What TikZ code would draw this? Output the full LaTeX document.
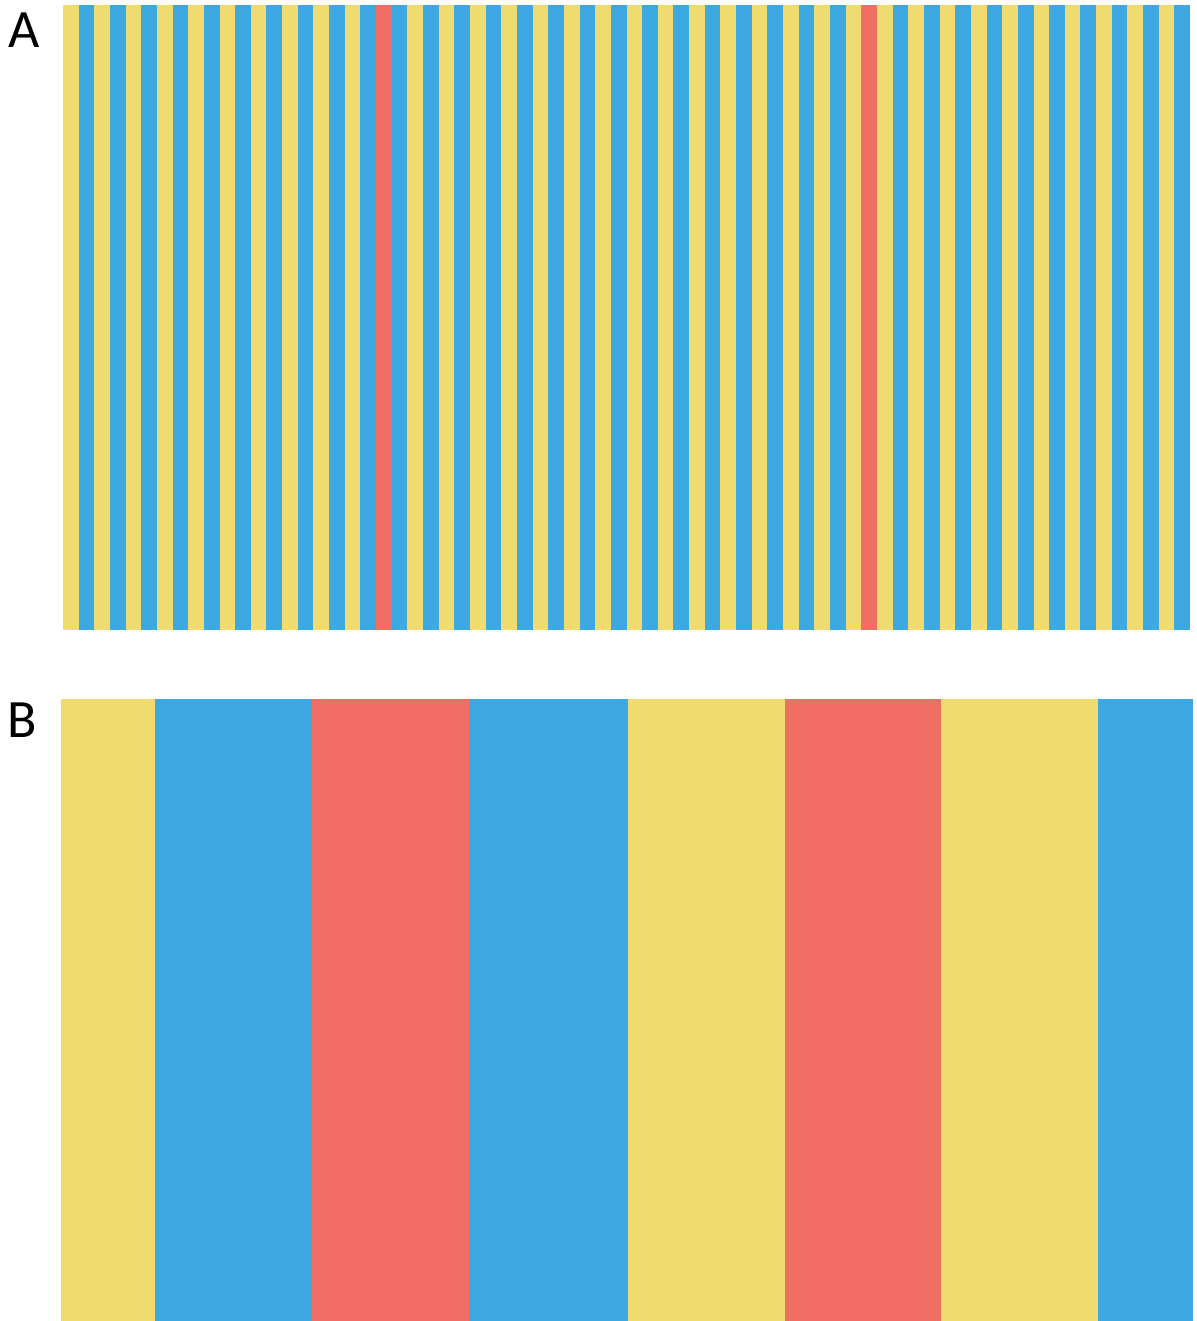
\documentclass[tikz,border=0pt]{standalone}
\usepackage{fontspec}
\setmainfont{Carlito}
\usepackage{tikz}
\usetikzlibrary{positioning}
\definecolor{StripeYellow}{RGB}{240,219,112}
\definecolor{StripeBlue}{RGB}{62,168,227}
\definecolor{StripeRed}{RGB}{240,110,100}

\begin{document}
\begin{tikzpicture}[x=1pt,y=-1pt,
    panellabel/.style={inner sep=0pt,font=\fontsize{54}{54}\selectfont}]
      \useasboundingbox (0,0) rectangle (1196,1321);
      % panel A: 72 narrow stripes
      \fill[StripeYellow] (63,5) rectangle (1190,630);
      \foreach \i in {1,3,...,71}
        \fill[StripeBlue] ({63+\i*15.653},5) rectangle ({63+(\i+1)*15.653},630);
      \foreach \i in {20,51}
        \fill[StripeRed] ({63+\i*15.653},5) rectangle ({63+(\i+1)*15.653},630);
      \node[panellabel] (labA) at (24,30) {A};
      % panel B: magnified stripes
      \foreach \xa/\xb/\col in {61/155/StripeYellow,155/312/StripeBlue,312/469/StripeRed,
          469/628/StripeBlue,628/785/StripeYellow,785/941/StripeRed,
          941/1098/StripeYellow,1098/1193/StripeBlue}
        \fill[\col] (\xa,699) rectangle (\xb,1321);
      \node[panellabel] (labB) at (22,720) {B};
    \end{tikzpicture}
\end{document}
